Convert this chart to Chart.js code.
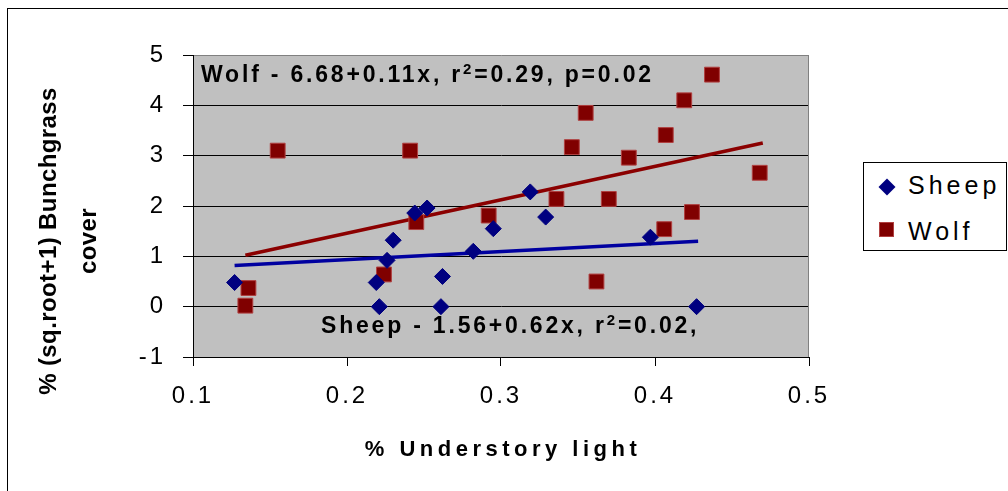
<!DOCTYPE html>
<html>
<head>
<meta charset="utf-8">
<title>Bunchgrass cover vs understory light</title>
<script src="https://cdn.jsdelivr.net/npm/chart.js@4.4.1/dist/chart.umd.min.js"></script>
<style>
  html, body { margin: 0; padding: 0; background: #fff; overflow: hidden; }
  #wrap { position: relative; width: 1008px; height: 491px; }
  #chart { position: absolute; left: 0; top: 0; }
  #outer { position: absolute; left: 7px; top: 8px; width: 1100px; height: 600px; border: 1px solid #000; pointer-events: none; }
  #legend { position: absolute; left: 863px; top: 162px; width: 142px; height: 87px; border: 1px solid #000; background: #fff;
            font: 25px "Liberation Sans", Arial, sans-serif; letter-spacing: 4px; color: #000; }
  #legend .lbl { position: absolute; left: 44px; line-height: 25px; white-space: nowrap; }
  #legend .diamond { position: absolute; left: 17px; top: 18px; width: 12px; height: 12px; background: #000080; transform: rotate(45deg); }
  #legend .square { position: absolute; left: 15px; top: 59px; width: 13px; height: 13px; background: #800000; border: 1px solid #b04040; }
</style>
</head>
<body>
<div id="wrap">
  <canvas id="chart" width="1008" height="491"></canvas>
  <div id="outer"></div>
  <div id="legend">
    <span class="diamond"></span><span class="lbl" style="top:10px">Sheep</span>
    <span class="square"></span><span class="lbl" style="top:56px">Wolf</span>
  </div>
</div>
<script>
// values
const sheepX = [0.127, 0.219, 0.221, 0.226, 0.230, 0.244, 0.252, 0.261, 0.262, 0.282, 0.295, 0.319, 0.329, 0.397, 0.427];
const sheepY = [0.48, 0.48, 0.00, 0.92, 1.32, 1.86, 1.96, 0.00, 0.60, 1.10, 1.55, 2.28, 1.78, 1.38, 0.00];

const wolfX = [0.134, 0.136, 0.155, 0.224, 0.241, 0.245, 0.292, 0.336, 0.346, 0.355, 0.362, 0.370, 0.383, 0.406, 0.407, 0.419, 0.424, 0.437, 0.468];
const wolfY = [0.02, 0.37, 3.10, 0.64, 3.10, 1.68, 1.81, 2.14, 3.17, 3.85, 0.50, 2.14, 2.96, 1.54, 3.41, 4.10, 1.88, 4.61, 2.66];

// trend line end points
const sheepFitX = [0.127, 0.428];
const sheepFitY = [0.82, 1.30];
const wolfFitX = [0.134, 0.470];
const wolfFitY = [1.02, 3.25];

const xTicks = [0.1, 0.2, 0.3, 0.4, 0.5];
const yTicks = [-1, 0, 1, 2, 3, 4, 5];

const xTitle = '% Understory light';
const yTitle = ['% (sq.root+1) Bunchgrass', 'cover'];
const wolfNote = ['Wolf - 6.68+0.11x, r', '2', '=0.29, p=0.02'];
const sheepNote = ['Sheep - 1.56+0.62x, r', '2', '=0.02,'];

const FONT = '"Liberation Sans", Arial, sans-serif';

const pts = (xs, ys) => xs.map((x, i) => ({ x, y: ys[i] }));

// draws a note with a superscript middle part
function drawNote(ctx, parts, x, y) {
  const sizes = [23, 15, 23];
  const lift = [0, -8, 0];
  parts.forEach((t, i) => {
    ctx.font = `bold ${sizes[i]}px ${FONT}`;
    ctx.fillText(t, x, y + lift[i]);
    x += ctx.measureText(t).width;
  });
}

const plotFrame = {
  id: 'plotFrame',
  beforeDraw(chart) {
    const { ctx, chartArea: a } = chart;
    ctx.save();
    ctx.fillStyle = '#c0c0c0';
    ctx.fillRect(a.left, a.top, a.right - a.left, a.bottom - a.top);
    ctx.restore();
    ctx.letterSpacing = '3px';
  },
  beforeDatasetsDraw(chart) {
    const { ctx, chartArea: a } = chart;
    ctx.save();
    ctx.strokeStyle = '#808080';
    ctx.lineWidth = 1;
    ctx.beginPath();
    ctx.moveTo(a.right - 0.5, a.top);
    ctx.lineTo(a.right - 0.5, a.bottom);
    ctx.stroke();
    ctx.restore();
  },
  afterDraw(chart) {
    const { ctx, chartArea: a } = chart;
    ctx.save();
    ctx.fillStyle = '#000';
    ctx.textBaseline = 'alphabetic';

    // regression notes
    ctx.textAlign = 'left';
    ctx.letterSpacing = '2.8px';
    drawNote(ctx, wolfNote, a.left + 8, a.top + 27);
    drawNote(ctx, sheepNote, a.left + 128, a.top + 278);

    // x title
    ctx.textAlign = 'center';
    ctx.letterSpacing = '4.5px';
    ctx.font = `bold 22px ${FONT}`;
    ctx.fillText(xTitle, (a.left + a.right) / 2 + 2, a.bottom + 99);

    // y title, two lines
    ctx.letterSpacing = '0.4px';
    ctx.font = `bold 24px ${FONT}`;
    const cy = (a.top + a.bottom) / 2 + 35;
    yTitle.forEach((t, i) => {
      ctx.save();
      ctx.translate(a.left - 137 + i * 40, cy);
      ctx.rotate(-Math.PI / 2);
      ctx.fillText(t, 0, 0);
      ctx.restore();
    });
    ctx.restore();
  }
};

new Chart(document.getElementById('chart'), {
  type: 'scatter',
  data: {
    datasets: [
      {
        label: 'Sheep',
        data: pts(sheepX, sheepY),
        pointStyle: 'rectRot',
        pointRadius: 8,
        backgroundColor: '#000080',
        borderColor: '#000080',
        borderWidth: 1,
        order: 1
      },
      {
        label: 'Wolf',
        data: pts(wolfX, wolfY),
        pointStyle: 'rect',
        pointRadius: 10.5,
        backgroundColor: '#800000',
        borderColor: '#b04040',
        borderWidth: 1,
        order: 1
      },
      {
        label: 'Sheep fit',
        data: pts(sheepFitX, sheepFitY),
        showLine: true,
        pointRadius: 0,
        borderColor: '#0000a0',
        borderWidth: 3.5,
        order: 2
      },
      {
        label: 'Wolf fit',
        data: pts(wolfFitX, wolfFitY),
        showLine: true,
        pointRadius: 0,
        borderColor: '#8b0000',
        borderWidth: 3.5,
        order: 2
      }
    ]
  },
  options: {
    responsive: false,
    animation: false,
    events: [],
    layout: { padding: { left: 0, top: 55, right: 199, bottom: 0 } },
    plugins: {
      legend: { display: false },
      tooltip: { enabled: false }
    },
    scales: {
      x: {
        type: 'linear',
        min: xTicks[0],
        max: xTicks[xTicks.length - 1],
        afterBuildTicks: (s) => { s.ticks = xTicks.map((v) => ({ value: v })); },
        afterFit: (s) => { s.height = 134; },
        grid: { drawOnChartArea: false, drawTicks: true, tickLength: 9, tickColor: '#000' },
        border: { color: '#000', width: 1 },
        ticks: {
          padding: 16,
          color: '#000',
          font: { family: FONT, size: 24 },
          callback: (v) => v.toFixed(1)
        }
      },
      y: {
        min: yTicks[0],
        max: yTicks[yTicks.length - 1],
        afterBuildTicks: (s) => { s.ticks = yTicks.map((v) => ({ value: v })); },
        afterFit: (s) => { s.width = 193; },
        grid: {
          color: (c) => (c.tick && c.tick.value === 5 ? '#808080' : '#000'),
          tickColor: '#000',
          tickLength: 10,
          lineWidth: 1
        },
        border: { color: '#000', width: 1 },
        ticks: {
          padding: 17,
          color: '#000',
          font: { family: FONT, size: 24 },
          callback: (v) => String(v)
        }
      }
    }
  },
  plugins: [plotFrame]
});
</script>
</body>
</html>
